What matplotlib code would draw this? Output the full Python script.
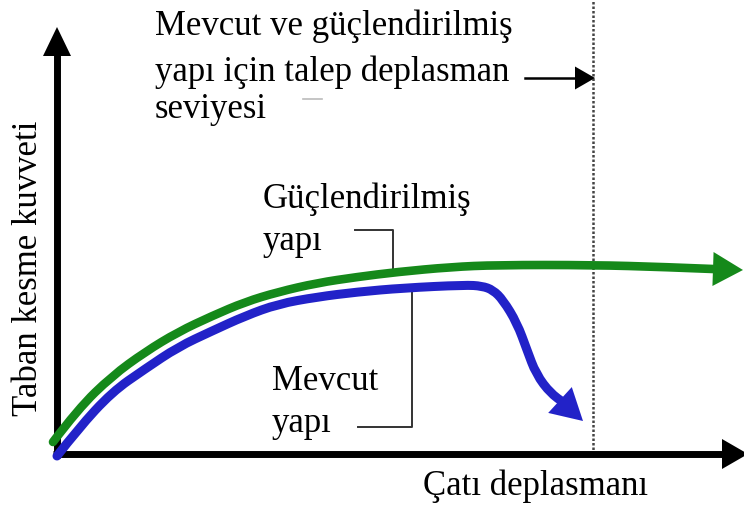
import numpy as np
import matplotlib
matplotlib.use("Agg")
import matplotlib.pyplot as plt
from matplotlib.patches import Polygon, PathPatch
from matplotlib.path import Path

# Schematic capacity curves (arbitrary units: roof displacement vs. base shear)
strengthened_disp = [-4, 21, 55, 88, 121, 155, 188, 221, 260, 300, 340, 394,
                     440, 536, 607, 656, 686]
strengthened_shear = [12, 45, 78, 102, 122, 138, 152, 162, 171, 177, 182, 187,
                      189, 189, 187, 185, 184]

existing_disp = [0, 21, 55, 88, 121, 155, 188, 221, 260, 300, 346, 408, 425,
                 436, 446, 460, 470, 479, 494, 503, 526]
existing_shear = [-2, 25, 62, 85, 107, 123, 138, 150, 157, 162, 166, 169, 168,
                  164, 154, 131, 104, 80, 60, 54, 33]

demand_disp = 536  # demand displacement level

# Text
title_lines = ["Mevcut ve güçlendirilmiş", "yapı için talep deplasman", "seviyesi"]
label_strengthened = ["Güçlendirilmiş", "yapı"]
label_existing = ["Mevcut", "yapı"]
x_label = "Çatı deplasmanı"
y_label = "Taban kesme kuvveti"

GREEN = "#15891a"
BLUE = "#2222c8"
FONT = "Liberation Serif"
FS = 25

fig = plt.figure(figsize=(7.44, 5.10), dpi=100)
ax = fig.add_axes([0, 0, 1, 1])
ax.set_xlim(-57, 687)
ax.set_ylim(-55, 455)
ax.axis("off")


def arrow_head(ax, base, tip, half_width, color):
    base = np.asarray(base, float)
    tip = np.asarray(tip, float)
    d = tip - base
    n = np.array([-d[1], d[0]]) / np.hypot(*d)
    verts = [tip, base + n * half_width, base - n * half_width]
    ax.add_patch(Polygon(verts, closed=True, facecolor=color, edgecolor="none", zorder=5))


def smooth_path(xs, ys):
    """Quadratic Bezier path using the points as control points."""
    pts = np.column_stack([xs, ys]).astype(float)
    verts = [pts[0]]
    codes = [Path.MOVETO]
    for i in range(1, len(pts) - 1):
        end = pts[i + 1] if i == len(pts) - 2 else (pts[i] + pts[i + 1]) / 2
        verts += [pts[i], end]
        codes += [Path.CURVE3, Path.CURVE3]
    return Path(verts, codes)


def curve_with_head(ax, xs, ys, color, half_width, lw):
    path = smooth_path(xs[:-1], ys[:-1])
    ax.add_patch(PathPatch(path, facecolor="none", edgecolor=color, lw=lw,
                           capstyle="round", joinstyle="round", zorder=4))
    arrow_head(ax, (xs[-2], ys[-2]), (xs[-1], ys[-1]), half_width, color)


# Axes with arrowheads
ax.plot([0, 0], [-4, 400], color="black", lw=5, solid_capstyle="butt", zorder=3)
arrow_head(ax, (0, 398), (0, 427), 14, "black")
ax.plot([-4, 667], [0, 0], color="black", lw=5, solid_capstyle="butt", zorder=3)
arrow_head(ax, (665, 0), (691, 0), 15, "black")

# Demand displacement level
ax.plot([demand_disp, demand_disp], [0, 460], color="#444444", lw=1.8,
        linestyle=(0, (1, 0.8)), zorder=2)

# Capacity curves
curve_with_head(ax, strengthened_disp, strengthened_shear, GREEN, 17, 6.2)
curve_with_head(ax, existing_disp, existing_shear, BLUE, 17.5, 6.5)

# Pointer to the demand level
ax.plot([468, 520], [376, 376], color="black", lw=1.8, zorder=3)
arrow_head(ax, (518, 376), (538, 376), 11.5, "black")
ax.plot([246, 265], [355, 355], color="#bbbbbb", lw=1.2)

# Leader lines for the curve labels
ax.plot([298, 336, 336], [224, 224, 180], color="#333333", lw=1.4, zorder=3)
ax.plot([301, 355, 355], [27, 27, 165], color="#333333", lw=1.4, zorder=3)

txt = dict(fontfamily=FONT, fontsize=FS, color="black", ha="left", va="baseline")
for line, y in zip(title_lines, [420, 374, 337]):
    ax.text(98, y, line, **txt)
for line, y in zip(label_strengthened, [247, 205]):
    ax.text(206, y, line, **txt)
for line, y in zip(label_existing, [65, 23]):
    ax.text(215, y, line, **txt)
ax.text(366, -40, x_label, **txt)
ax.text(-20, 187, y_label, fontfamily=FONT, fontsize=FS, rotation=90,
        rotation_mode="anchor", ha="center", va="baseline")

fig.savefig("out.png", dpi=100)
